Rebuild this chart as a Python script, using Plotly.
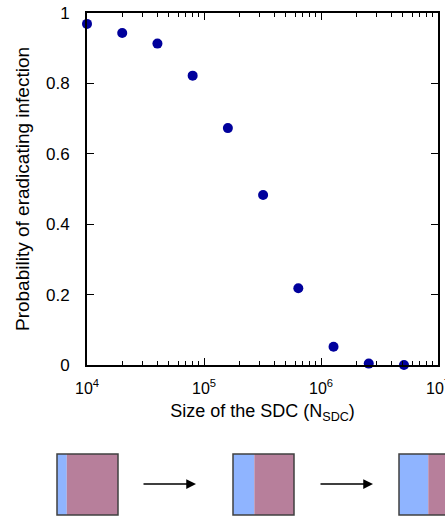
import plotly.graph_objects as go

# Data
sdc_size = [1e4, 2e4, 4e4, 8e4, 1.6e5, 3.2e5, 6.4e5, 1.28e6, 2.56e6, 5.12e6]
prob_eradication = [0.969, 0.943, 0.913, 0.822, 0.673, 0.483, 0.218, 0.052, 0.004, 0.0]
x_tickvals = [1e4, 1e5, 1e6, 1e7]
x_ticktext = ["10<sup>4</sup>", "10<sup>5</sup>", "10<sup>6</sup>", "10<sup>7</sup>"]
y_tickvals = [0, 0.2, 0.4, 0.6, 0.8, 1]
y_ticktext = ["0", "0.2", "0.4", "0.6", "0.8", "1"]
# schematic: fraction of each square that is blue
blue_fraction = [0.16, 0.35, 0.48]

W, H = 445, 518
L, R, T, B = 87, 438, 13, 365

def px(x):
    return (x - L) / (R - L)

def py(y):
    return (B - y) / (B - T)

fig = go.Figure()
fig.add_trace(go.Scatter(
    x=sdc_size, y=prob_eradication, mode="markers",
    marker=dict(color="#00009C", size=10, line=dict(width=0)),
    cliponaxis=False, showlegend=False,
))

fam = "Liberation Sans, Arial, sans-serif"
xtick_font = dict(family=fam, size=16, color="black")
ytick_font = dict(family=fam, size=17, color="black")
xtitle_font = dict(family=fam, size=18, color="black")
ytitle_font = dict(family=fam, size=19, color="black")

fig.update_layout(
    width=W, height=H,
    margin=dict(l=L, r=W - R, t=T, b=H - B, pad=0),
    plot_bgcolor="white", paper_bgcolor="white",
    font=ytick_font,
    xaxis=dict(
        type="log", range=[4, 7], automargin=False,
        tickvals=x_tickvals, ticktext=x_ticktext,
        ticks="inside", ticklen=7, tickwidth=1, tickcolor="black",
        showline=True, linecolor="black", linewidth=2, mirror="ticks",
        showgrid=False, zeroline=False,
        ticklabelstandoff=8, ticklabeloverflow="allow",
        minor=dict(ticks="inside", ticklen=4, tickwidth=1, tickcolor="black",
                   dtick="D1", showgrid=False),
        title=dict(text="Size of the SDC (N<sub>SDC</sub>)", font=xtitle_font, standoff=8),
        tickfont=xtick_font,
    ),
    yaxis=dict(
        range=[0, 1], automargin=False,
        tickvals=y_tickvals, ticktext=y_ticktext,
        ticks="inside", ticklen=7, tickwidth=1, tickcolor="black",
        showline=True, linecolor="black", linewidth=2, mirror="ticks",
        showgrid=False, zeroline=False,
        ticklabelstandoff=12,
        title=dict(text="Probability of eradicating infection", font=ytitle_font, standoff=11),
        tickfont=ytick_font,
    ),
)

# Schematic squares
sq_left = [57, 233, 399]
sq_w, sq_top, sq_bot = 61, 454, 515
shapes = []
for xl, f in zip(sq_left, blue_fraction):
    xb = xl + f * sq_w
    shapes.append(dict(type="rect", xref="paper", yref="paper",
                       x0=px(xl), x1=px(xb), y0=py(sq_bot), y1=py(sq_top),
                       fillcolor="#8FB4FF", line=dict(width=0), layer="above"))
    shapes.append(dict(type="rect", xref="paper", yref="paper",
                       x0=px(xb), x1=px(xl + sq_w), y0=py(sq_bot), y1=py(sq_top),
                       fillcolor="#B77F9B", line=dict(width=0), layer="above"))
    shapes.append(dict(type="rect", xref="paper", yref="paper",
                       x0=px(xl), x1=px(xl + sq_w), y0=py(sq_bot), y1=py(sq_top),
                       fillcolor="rgba(0,0,0,0)", line=dict(width=1.5, color="#404040"),
                       layer="above"))
fig.update_layout(shapes=shapes)

# Arrows
for x0, x1 in [(142, 196), (319, 373)]:
    fig.add_annotation(x=px(x1), y=py(484), ax=x0 - x1, ay=0,
                       xref="paper", yref="paper", axref="pixel", ayref="pixel",
                       showarrow=True, arrowhead=2, arrowsize=1.3, arrowwidth=1.5,
                       arrowcolor="black", text="")

fig.write_html("out.html", config={"displayModeBar": False},
               post_script="document.body.style.margin='0';document.body.style.overflow='hidden';")
